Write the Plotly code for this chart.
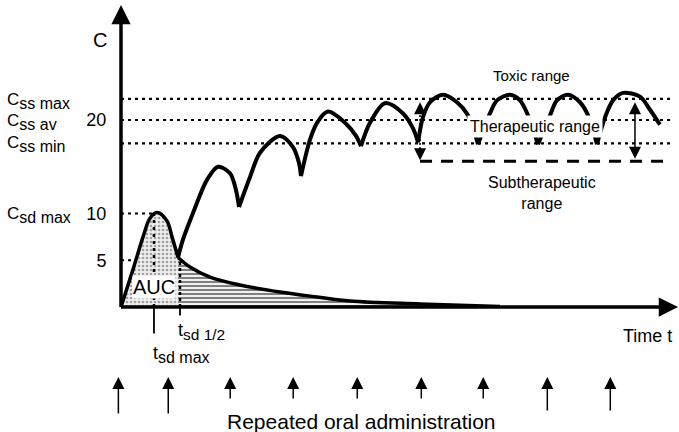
import plotly.graph_objects as go

# ---------------- data ----------------
# single dose: absorption/peak part and elimination tail (time in h, C in conc. units)
sd_peak_t = [0, 1.14, 2.10, 2.76, 3.43, 4.38, 4.86, 5.43]
sd_peak_c = [0, 4.0, 7.5, 9.5, 10.1, 9.2, 7.5, 5.3]
sd_tail_t = [5.43, 6.57, 8.48, 11.33, 15.14, 18.67, 21.81, 28.48, 36.1]
sd_tail_c = [5.3, 4.28, 3.2, 2.35, 1.6, 1.07, 0.64, 0.32, 0.05]

# repeated dosing curve, one segment per dosing interval (None = cusp at trough)
md_t = [5.43, 5.9, 6.86, 8.19, 9.24, 10.38, 10.95, 11.24, None,
        11.24, 12.29, 13.24, 15.14, 16.38, 16.95, 17.14, None,
        17.14, 18.0, 18.67, 19.71, 21.52, 22.38, 22.86, None,
        22.86, 23.71, 25.14, 26.86, 27.81, 28.29, None,
        28.29, 28.76, 29.43, 30.67, 32.0, 33.05, 34.0, None,
        34.0, 35.14, 35.81, 37.05, 38.0, 38.76, 39.71, None,
        39.71, 40.86, 41.52, 42.57, 43.71, 44.48, 45.33, None,
        45.33, 46.1, 46.86, 47.81, 49.43, 50.38, 51.33]
md_c = [5.3, 7.2, 10.05, 13.6, 15.0, 14.3, 12.5, 10.7, None,
        10.7, 13.9, 16.5, 18.3, 17.1, 15.4, 14.0, None,
        14.0, 17.9, 19.7, 20.9, 19.5, 18.3, 17.2, None,
        17.2, 19.7, 21.8, 20.7, 19.1, 17.6, None,
        17.6, 20.3, 21.9, 22.7, 21.9, 20.5, 17.4, None,
        17.4, 20.7, 22.1, 22.7, 22.1, 20.5, 17.4, None,
        17.4, 20.5, 22.1, 22.7, 21.9, 20.5, 17.4, None,
        17.4, 20.3, 22.1, 22.9, 22.5, 21.1, 19.5]

css_levels = {"max": 22.25, "av": 20.0, "min": 17.5}
c_sd_max = 10.0
c_half = 5.0
c_subther = 15.6
t_sd_max = 3.14
t_half = 5.62
t_end_lines = 52.3
t_range_start = 28.48
t_range_arrows = [28.48, 48.95]
dose_t = [-0.25, 4.5, 10.4, 16.4, 22.5, 28.6, 34.5, 40.6, 46.6]
dose_len = [38, 38, 23, 23, 23, 23, 23, 35, 35]

y_ticks = [5, 10, 20]
y_ticktext = ["5", "10", "20"]

# ---------------- layout geometry ----------------
W, H = 679, 432
L, B = 121, 125
PW, PH = W - L, H - B
PX_PER_T = 10.5
PX_PER_C = 9.35
X_MAX = PW / PX_PER_T
Y_MAX = PH / PX_PER_C
FONT = "Liberation Sans, Arial, sans-serif"


def px_x(p):
    return (p - L) / PW


def px_y(p):
    return (PH - p) / PH


fig = go.Figure()

# dotted reference levels
dot = dict(color="black", width=2.2, dash="3px,4px")
for lvl in css_levels.values():
    fig.add_trace(go.Scatter(x=[0, t_end_lines], y=[lvl, lvl], mode="lines", line=dot))
fig.add_trace(go.Scatter(x=[0, 3.43], y=[c_sd_max, c_sd_max], mode="lines", line=dot))
fig.add_trace(go.Scatter(x=[0, t_half], y=[c_half, c_half], mode="lines", line=dot))

# subtherapeutic (dashed) boundary
fig.add_trace(go.Scatter(x=[t_range_start, t_end_lines], y=[c_subther, c_subther], mode="lines",
                         line=dict(color="black", width=3, dash="12px,9px")))

# single dose AUC areas
fig.add_trace(go.Scatter(x=sd_peak_t, y=sd_peak_c, mode="lines", fill="tozeroy",
                         line=dict(color="black", width=3.5, shape="spline"),
                         fillcolor="rgba(0,0,0,0)",
                         fillpattern=dict(shape=".", fgcolor="#555", bgcolor="#eeeeee",
                                          size=4, solidity=0.35)))
fig.add_trace(go.Scatter(x=sd_tail_t, y=sd_tail_c, mode="lines", fill="tozeroy",
                         line=dict(color="black", width=3.5, shape="spline"),
                         fillcolor="rgba(0,0,0,0)",
                         fillpattern=dict(shape="-", fgcolor="black", bgcolor="white",
                                          size=4, solidity=0.55)))

# vertical guides at t_sd max / t_1/2
fig.add_trace(go.Scatter(x=[t_sd_max, t_sd_max], y=[0, c_sd_max], mode="lines",
                         line=dict(color="black", width=2.5, dash="3px,4px")))
fig.add_trace(go.Scatter(x=[t_half, t_half], y=[0, c_half], mode="lines",
                         line=dict(color="black", width=2.5, dash="3px,3px")))

# dotted stem of the left range arrow
fig.add_trace(go.Scatter(x=[t_range_arrows[0]] * 2, y=[16.9, 20.9], mode="lines",
                         line=dict(color="black", width=1.5, dash="2px,2px")))

# repeated dosing curve
fig.add_trace(go.Scatter(x=md_t, y=md_c, mode="lines", connectgaps=False,
                         line=dict(color="black", width=4, shape="spline", smoothing=0.9)))

ann = []
# axes with arrow heads
ann.append(dict(x=0, y=(PH - 5) / PX_PER_C, ax=0, ay=-0.15, xref="x", yref="y", axref="x", ayref="y",
                text="", showarrow=True, arrowhead=2, arrowsize=1.1, arrowwidth=3.5, arrowcolor="black"))
ann.append(dict(x=(678 - L) / PX_PER_T, y=0, ax=-0.15, ay=0, xref="x", yref="y", axref="x", ayref="y",
                text="", showarrow=True, arrowhead=2, arrowsize=1.1, arrowwidth=3.5, arrowcolor="black"))

# tick marks below axis
ann.append(dict(x=t_sd_max, y=0, ax=0, ay=28, xref="x", yref="y", text="", showarrow=True,
                arrowhead=0, arrowwidth=1.8, arrowcolor="black"))
ann.append(dict(x=t_half, y=0, ax=0, ay=10, xref="x", yref="y", text="", showarrow=True,
                arrowhead=0, arrowwidth=1.8, arrowcolor="black"))

# left range arrow: heads only (stem is dotted)
ann.append(dict(x=t_range_arrows[0], y=21.9, ax=0, ay=11, xref="x", yref="y", text="",
                showarrow=True, arrowhead=2, arrowsize=1.6, arrowwidth=1.5, arrowcolor="black"))
ann.append(dict(x=t_range_arrows[0], y=c_subther + 0.1, ax=0, ay=-11, xref="x", yref="y", text="",
                showarrow=True, arrowhead=2, arrowsize=1.6, arrowwidth=1.5, arrowcolor="black"))
# right range arrow: solid double-headed
ann.append(dict(x=t_range_arrows[1], y=21.9, ax=t_range_arrows[1], ay=c_subther + 0.1,
                xref="x", yref="y", axref="x", ayref="y",
                text="", showarrow=True, arrowhead=2, startarrowhead=2, arrowside="end+start",
                arrowsize=1.6, startarrowsize=1.6, arrowwidth=1.5, arrowcolor="black"))

# dose arrows (paper x so the first one at t<0 is not hidden)
for t, ln in zip(dose_t, dose_len):
    ann.append(dict(x=px_x(L + t * PX_PER_T), y=px_y(377), ax=0, ay=ln, xref="paper", yref="paper",
                    text="", showarrow=True, arrowhead=2, arrowsize=1.6, arrowwidth=1.5,
                    arrowcolor="black"))

f = lambda s: dict(family=FONT, size=s, color="black")


def sub(main, s, size):
    return f"{main}<sub><span style='font-size:{size}px'>{s}</span></sub>"


def txt(x, y, text, size, xanchor="center", **kw):
    d = dict(x=x, y=y, xref="paper", yref="paper", text=text, showarrow=False, font=f(size),
             xanchor=xanchor, yanchor="middle")
    d.update(kw)
    return d


ann += [
    txt(px_x(100), px_y(40), "C", 20),
    txt(px_x(5), px_y(101), sub("C", "ss max", 16), 17, xanchor="left"),
    txt(px_x(5), px_y(122), sub("C", "ss av", 16), 17, xanchor="left"),
    txt(px_x(5), px_y(144), sub("C", "ss min", 16), 17, xanchor="left"),
    txt(px_x(5), px_y(215), sub("C", "sd max", 16), 17, xanchor="left"),
    dict(x=3.14, y=2.14, xref="x", yref="y", text="AUC", showarrow=False, font=f(20),
         bgcolor="white", borderpad=0, xanchor="center", yanchor="middle"),
    txt(px_x(176), px_y(331), sub("t", "sd 1/2", 15.5), 18, xanchor="left"),
    txt(px_x(151), px_y(354), sub("t", "sd max", 16), 18, xanchor="left"),
    txt(px_x(621), px_y(336), "Time t", 18, xanchor="left"),
    txt(px_x(361), px_y(421), "Repeated oral administration", 21),
    txt(px_x(531), px_y(75), "Toxic range", 15),
    txt(px_x(535), px_y(127), "Therapeutic range", 16, bgcolor="white", borderpad=2),
    txt(px_x(542), px_y(193), "Subtherapeutic<br>range", 16),
]

fig.update_layout(
    width=W, height=H,
    margin=dict(l=L, r=0, t=0, b=B),
    paper_bgcolor="white", plot_bgcolor="white",
    showlegend=False,
    annotations=ann,
    xaxis=dict(range=[0, X_MAX], visible=False),
    yaxis=dict(range=[0, Y_MAX], showgrid=False, zeroline=False, showline=False,
               tickvals=y_ticks, ticktext=y_ticktext, ticks="outside", ticklen=10,
               tickcolor="rgba(0,0,0,0)", tickfont=f(18)),
)

fig.write_html("out.html")
